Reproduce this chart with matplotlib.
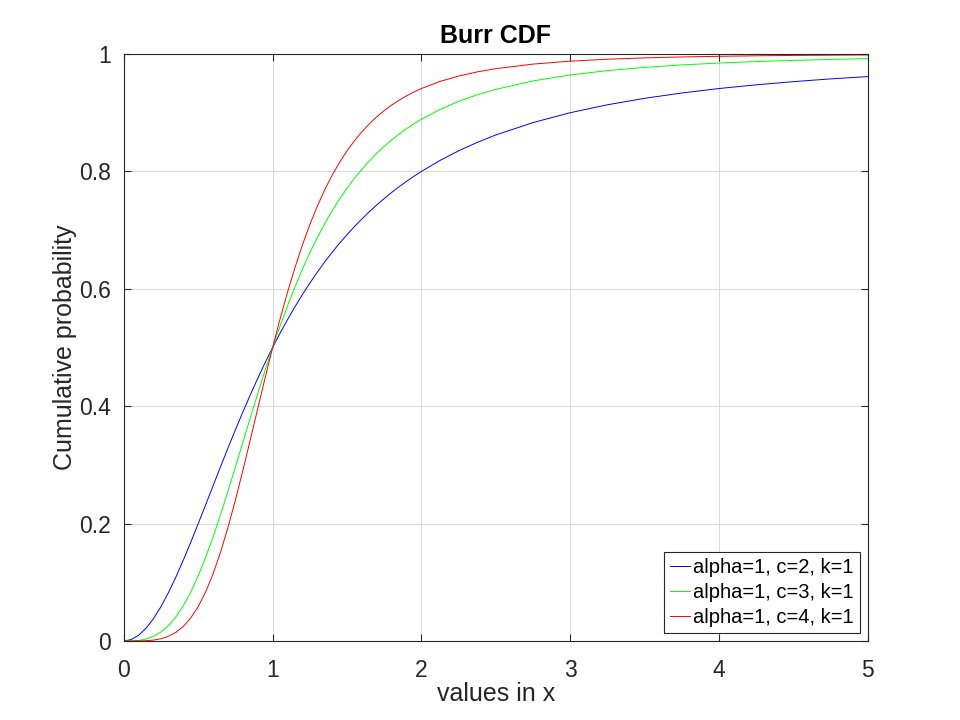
import matplotlib
matplotlib.use('Agg')
import matplotlib.pyplot as plt

plt.rcParams['font.family'] = ['Liberation Sans', 'DejaVu Sans']

# values
x = [0, 0.05, 0.1, 0.15, 0.2, 0.25, 0.3, 0.35, 0.4, 0.45, 0.5, 0.55, 0.6, 0.65,
     0.7, 0.75, 0.8, 0.85, 0.9, 0.95, 1.0, 1.05, 1.1, 1.15, 1.2, 1.25, 1.3, 1.35,
     1.4, 1.45, 1.5, 1.55, 1.6, 1.65, 1.7, 1.75, 1.8, 1.85, 1.9, 1.95, 2.0,
     2.125, 2.25, 2.375, 2.5, 2.75, 3.0, 3.25, 3.5, 3.75, 4.0, 4.25, 4.5, 4.75, 5.0]
cdf_c2 = [0, 0.0025, 0.0099, 0.0220, 0.0385, 0.0588, 0.0826, 0.1091, 0.1379, 0.1684,
          0.2, 0.2322, 0.2647, 0.2970, 0.3289, 0.36, 0.3902, 0.4194, 0.4475, 0.4744,
          0.5, 0.5244, 0.5475, 0.5694, 0.5902, 0.6098, 0.6283, 0.6457, 0.6622, 0.6777,
          0.6923, 0.7061, 0.7191, 0.7314, 0.7429, 0.7538, 0.7642, 0.7739, 0.7831, 0.7918,
          0.8, 0.8187, 0.8351, 0.8494, 0.8621, 0.8832, 0.9, 0.9135, 0.9245, 0.9336,
          0.9412, 0.9475, 0.9529, 0.9576, 0.9615]
cdf_c3 = [0, 0.0001, 0.0010, 0.0034, 0.0079, 0.0154, 0.0263, 0.0411, 0.0602, 0.0835,
          0.1111, 0.1426, 0.1776, 0.2155, 0.2554, 0.2967, 0.3386, 0.3805, 0.4216, 0.4616,
          0.5, 0.5365, 0.5710, 0.6033, 0.6334, 0.6614, 0.6872, 0.7110, 0.7329, 0.7530,
          0.7714, 0.7883, 0.8038, 0.8179, 0.8309, 0.8428, 0.8536, 0.8636, 0.8728, 0.8812,
          0.8889, 0.9056, 0.9193, 0.9305, 0.9398, 0.9541, 0.9643, 0.9717, 0.9772, 0.9814,
          0.9846, 0.9871, 0.9891, 0.9908, 0.9921]
cdf_c4 = [0, 0.0, 0.0001, 0.0005, 0.0016, 0.0039, 0.0080, 0.0148, 0.0250, 0.0394,
          0.0588, 0.0838, 0.1147, 0.1515, 0.1936, 0.2404, 0.2906, 0.3430, 0.3962, 0.4489,
          0.5, 0.5486, 0.5942, 0.6362, 0.6747, 0.7094, 0.7407, 0.7686, 0.7935, 0.8155,
          0.8351, 0.8523, 0.8676, 0.8811, 0.8931, 0.9036, 0.9130, 0.9213, 0.9287, 0.9353,
          0.9412, 0.9533, 0.9624, 0.9695, 0.9750, 0.9828, 0.9878, 0.9911, 0.9934, 0.9950,
          0.9961, 0.9969, 0.9976, 0.9980, 0.9984]
labels = ['alpha=1, c=2, k=1', 'alpha=1, c=3, k=1', 'alpha=1, c=4, k=1']

fig = plt.figure(figsize=(9.6, 7.2), dpi=100)
ax = fig.add_axes([0.129, 0.1097, 0.775, 0.8153])

ax.plot(x, cdf_c2, color='#0000ff', lw=0.7, label=labels[0])
ax.plot(x, cdf_c3, color='#00ff00', lw=0.7, label=labels[1])
ax.plot(x, cdf_c4, color='#ff0000', lw=0.7, label=labels[2])

ax.set_xlim(0, 5)
ax.set_ylim(0, 1)
ax.set_xticks([0, 1, 2, 3, 4, 5])
ax.set_yticks([0, 0.2, 0.4, 0.6, 0.8, 1])
ax.set_yticklabels(['0', '0.2', '0.4', '0.6', '0.8', '1'])
ax.grid(True, color='#d9d9d9', lw=0.7)
ax.tick_params(direction='in', labelsize=16.5, top=True, right=True, colors='#262626',
               length=5)
ax.tick_params(axis='x', pad=13)
ax.tick_params(axis='y', pad=9)
for s in ax.spines.values():
    s.set_color('#262626')
    s.set_linewidth(0.8)

ax.set_title('Burr CDF', fontsize=18, fontweight='bold', pad=8)
ax.set_xlabel('values in x', fontsize=18, color='#262626', labelpad=0)
ax.set_ylabel('Cumulative probability', fontsize=18, color='#262626', labelpad=2)

leg = ax.legend(loc='lower right', fontsize=14.5, fancybox=False, framealpha=1,
                edgecolor='#262626', handlelength=1.0, handletextpad=0.15,
                borderaxespad=0.4, labelspacing=0.3, borderpad=0.3)
leg.get_frame().set_linewidth(0.8)

fig.savefig('out.png', dpi=100)
